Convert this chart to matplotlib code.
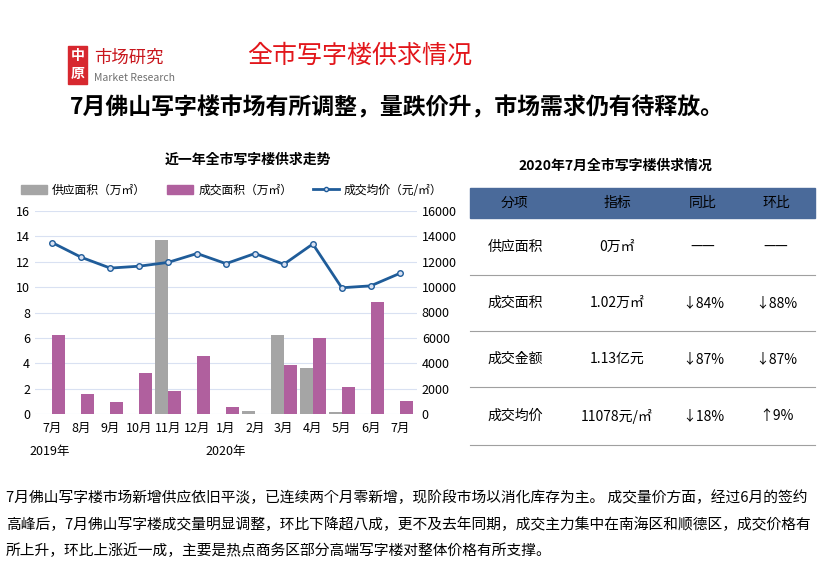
import matplotlib
matplotlib.use("Agg")
import matplotlib.pyplot as plt
import numpy as np
from matplotlib.patches import Rectangle
from matplotlib.lines import Line2D

plt.rcParams['font.family'] = ['Noto Sans CJK JP', 'Noto Sans CJK SC', 'DejaVu Sans']

months = ["7月", "8月", "9月", "10月", "11月", "12月", "1月", "2月", "3月", "4月", "5月", "6月", "7月"]
supply = [0, 0, 0, 0, 13.7, 0, 0, 0.25, 6.2, 3.65, 0.15, 0, 0]
deal = [6.25, 1.6, 0.95, 3.25, 1.85, 4.6, 0.55, 0, 3.9, 6.0, 2.1, 8.8, 1.0]
price = [13500, 12350, 11500, 11650, 11950, 12650, 11850, 12650, 11800, 13400, 9950, 10100, 11078]

table_header = ["分项", "指标", "同比", "环比"]
table_rows = [
    ["供应面积", "0万㎡", "——", "——"],
    ["成交面积", "1.02万㎡", "↓84%", "↓88%"],
    ["成交金额", "1.13亿元", "↓87%", "↓87%"],
    ["成交均价", "11078元/㎡", "↓18%", "↑9%"],
]

W, H = 829, 575
fig = plt.figure(figsize=(W/100, H/100), dpi=100)

def fx(x): return x / W
def fy(y): return 1 - y / H

# header
fig.patches.append(Rectangle((fx(68), fy(84)), fx(19), 38/H, transform=fig.transFigure, color='#D7282F'))
fig.text(fx(77.5), fy(56), "中", color='white', fontsize=10, ha='center', va='center', fontweight='bold')
fig.text(fx(77.5), fy(74), "原", color='white', fontsize=10, ha='center', va='center', fontweight='bold')
fig.text(fx(94), fy(58), "市场研究", color='#C8161D', fontsize=12.5, va='center')
fig.text(fx(94), fy(78), "Market Research", color='#707070', fontsize=7.5, va='center')
fig.text(fx(247), fy(56), "全市写字楼供求情况", color='#E2161B', fontsize=18, va='center')
fig.text(fx(70), fy(108), "7月佛山写字楼市场有所调整，量跌价升，市场需求仍有待释放。",
         color='black', fontsize=16.5, fontweight='bold', va='center')

# chart
ax = fig.add_axes([fx(35), fy(414), fx(417) - fx(35), (414 - 211) / H])
x = np.arange(len(months))
w = 0.45
ax.bar(x - w/2, supply, w, color='#A5A5A5', zorder=2)
ax.bar(x + w/2, deal, w, color='#B0609E', zorder=2)
ax.set_ylim(0, 16)
ax.set_yticks(range(0, 17, 2))
ax.set_xlim(-0.6, len(months) - 0.4)
ax.set_xticks(x)
ax.set_xticklabels(months)
ax.grid(axis='y', color='#D9E1F2', lw=0.8, zorder=0)
ax.set_axisbelow(True)
for s in ax.spines.values():
    s.set_visible(False)
ax.tick_params(length=0, labelsize=9)
ax.tick_params(axis='x', pad=6)
ax2 = ax.twinx()
ax2.plot(x, price, color='#1F5C99', lw=2, marker='o', ms=4, mfc='#D9E1F2', mec='#1F5C99', mew=1, zorder=3)
ax2.set_ylim(0, 16000)
ax2.set_yticks(range(0, 16001, 2000))
for s in ax2.spines.values():
    s.set_visible(False)
ax2.tick_params(length=0, labelsize=9)
fig.text(fx(50), fy(452), "2019年", fontsize=9, ha='center', va='center')
fig.text(fx(226), fy(452), "2020年", fontsize=9, ha='center', va='center')
fig.text(fx(248), fy(160), "近一年全市写字楼供求走势", fontsize=10, fontweight='bold', ha='center', va='center')
handles = [Rectangle((0, 0), 1, 1, color='#A5A5A5'), Rectangle((0, 0), 1, 1, color='#B0609E'),
           Line2D([0], [0], color='#1F5C99', lw=2, marker='o', ms=3, mfc='#D9E1F2')]
fig.legend(handles, ['供应面积（万㎡）', '成交面积（万㎡）', '成交均价（元/㎡）'], loc='center',
           bbox_to_anchor=(fx(232), fy(190)), ncol=3, frameon=False, fontsize=8.5,
           handlelength=2.2, columnspacing=1.8, handletextpad=0.4)

# table
fig.text(fx(615), fy(166), "2020年7月全市写字楼供求情况", fontsize=10, fontweight='bold', ha='center', va='center')
tx0, tx1 = 470, 815
fig.patches.append(Rectangle((fx(tx0), fy(218)), fx(tx1 - tx0), 30/H, transform=fig.transFigure, color='#4A6A9A'))
colx = [515, 617, 703, 776]
for cx, t in zip(colx, table_header):
    fig.text(fx(cx), fy(203), t, color='black', fontsize=10, ha='center', va='center')
row_edges = [218, 275, 331, 387, 445]
for i, row in enumerate(table_rows):
    yc = (row_edges[i] + row_edges[i + 1]) / 2
    for cx, t in zip(colx, row):
        fig.text(fx(cx), fy(yc), t, fontsize=10, ha='center', va='center')
    fig.add_artist(Line2D([fx(tx0), fx(tx1)], [fy(row_edges[i + 1])] * 2, color='#A0A0A0', lw=0.8))

# body text
body = ["7月佛山写字楼市场新增供应依旧平淡，已连续两个月零新增，现阶段市场以消化库存为主。 成交量价方面，经过6月的签约",
        "高峰后，7月佛山写字楼成交量明显调整，环比下降超八成，更不及去年同期，成交主力集中在南海区和顺德区，成交价格有",
        "所上升，环比上涨近一成，主要是热点商务区部分高端写字楼对整体价格有所支撑。"]
for i, l in enumerate(body):
    fig.text(fx(6), fy(498 + 26.5 * i), l, fontsize=10.6, va='center')

fig.savefig("out.png", dpi=100)
